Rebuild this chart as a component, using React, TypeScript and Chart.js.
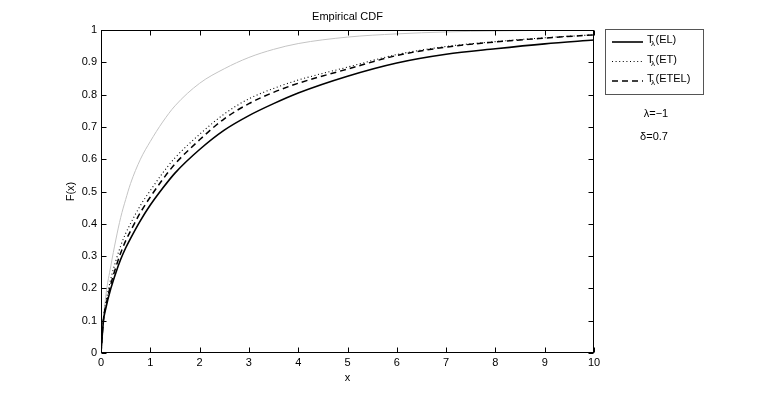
import React, { useEffect, useRef } from "react";
import { Chart, registerables } from "chart.js";
Chart.register(...registerables);

const chartTitle = "Empirical CDF";
const xAxisTitle = "x";
const yAxisTitle = "F(x)";
const xValues = [0, 0.05, 0.1, 0.2, 0.3, 0.4, 0.5, 0.6, 0.8, 1, 1.25, 1.5, 2, 2.5, 3, 3.5, 4, 5, 6, 7, 8, 9, 10];
const trueCdf = [0, 0.1, 0.18, 0.27, 0.35, 0.42, 0.475, 0.525, 0.6, 0.655, 0.715, 0.765, 0.835, 0.88, 0.915, 0.94, 0.958, 0.978, 0.988, 0.994, 0.997, 0.999, 1.0];
const elCdf = [0, 0.1, 0.14, 0.2, 0.248, 0.29, 0.325, 0.355, 0.41, 0.458, 0.51, 0.557, 0.63, 0.69, 0.735, 0.772, 0.805, 0.857, 0.898, 0.925, 0.942, 0.957, 0.969];
const etCdf = [0, 0.11, 0.158, 0.23, 0.285, 0.332, 0.37, 0.401, 0.457, 0.503, 0.557, 0.604, 0.677, 0.74, 0.787, 0.819, 0.845, 0.885, 0.924, 0.949, 0.964, 0.976, 0.985];
const etelCdf = [0, 0.105, 0.148, 0.213, 0.265, 0.31, 0.347, 0.378, 0.435, 0.483, 0.537, 0.585, 0.66, 0.725, 0.772, 0.807, 0.835, 0.879, 0.921, 0.947, 0.963, 0.975, 0.985];
const xTickValues = [0, 1, 2, 3, 4, 5, 6, 7, 8, 9, 10];
const xTickLabels = ["0", "1", "2", "3", "4", "5", "6", "7", "8", "9", "10"];
const yTickValues = [0, 0.1, 0.2, 0.3, 0.4, 0.5, 0.6, 0.7, 0.8, 0.9, 1];
const yTickLabels = ["0", "0.1", "0.2", "0.3", "0.4", "0.5", "0.6", "0.7", "0.8", "0.9", "1"];
const legendBase = "T";
const legendSub = "λ";
const legendSuffixes = ["(EL)", "(ET)", "(ETEL)"];
const noteLines = ["λ=−1", "δ=0.7"];

const FONT = "'Liberation Sans', Arial, Helvetica, sans-serif";

const pts = (ys: number[]) => xValues.map((x, i) => ({ x, y: ys[i] }));

export default function App() {
  const ref = useRef<HTMLCanvasElement | null>(null);
  useEffect(() => {
    if (!ref.current) return;
    const legendStyles = [
      { dash: [] as number[], width: 1.6 },
      { dash: [1, 2.6], width: 1.1 },
      { dash: [6, 4], width: 1.5 },
    ];
    const decor = {
      id: "decor",
      afterDraw(chart: any) {
        const ctx = chart.ctx as CanvasRenderingContext2D;
        const a = chart.chartArea;
        const xs = chart.scales.x;
        const ys = chart.scales.y;
        ctx.save();
        ctx.strokeStyle = "#000";
        ctx.lineWidth = 1;
        ctx.setLineDash([]);
        const L = Math.round(a.left) + 0.5, R = Math.round(a.right) - 0.5;
        const T = Math.round(a.top) + 0.5, B = Math.round(a.bottom) - 0.5;
        ctx.strokeRect(L, T, R - L, B - T);
        const tl = 5;
        ctx.beginPath();
        xTickValues.forEach((v) => {
          const px = Math.round(xs.getPixelForValue(v)) + 0.5;
          ctx.moveTo(px, B); ctx.lineTo(px, B - tl);
          ctx.moveTo(px, T); ctx.lineTo(px, T + tl);
        });
        yTickValues.forEach((v) => {
          const py = Math.round(ys.getPixelForValue(v)) + 0.5;
          ctx.moveTo(L, py); ctx.lineTo(L + tl, py);
          ctx.moveTo(R, py); ctx.lineTo(R - tl, py);
        });
        ctx.stroke();

        // legend
        const lx = 605.5, ly = 29.5, lw = 98, lh = 65;
        ctx.fillStyle = "#fff";
        ctx.fillRect(lx, ly, lw, lh);
        ctx.strokeStyle = "#555";
        ctx.strokeRect(lx, ly, lw, lh);
        const rows = [42, 61.5, 81];
        rows.forEach((y, i) => {
          const st = legendStyles[i];
          ctx.strokeStyle = "#000";
          ctx.lineWidth = st.width;
          ctx.setLineDash(st.dash);
          ctx.beginPath();
          ctx.moveTo(612, y);
          ctx.lineTo(643, y);
          ctx.stroke();
          ctx.setLineDash([]);
          ctx.fillStyle = "#000";
          ctx.textAlign = "left";
          ctx.textBaseline = "alphabetic";
          ctx.font = `11px ${FONT}`;
          ctx.fillText(legendBase, 647, y + 1);
          ctx.font = `8px ${FONT}`;
          ctx.fillText(legendSub, 651, y + 4);
          ctx.font = `11px ${FONT}`;
          ctx.fillText(legendSuffixes[i], 655.5, y + 1);
        });

        // notes
        ctx.fillStyle = "#000";
        ctx.textAlign = "center";
        ctx.textBaseline = "middle";
        ctx.font = `11px ${FONT}`;
        ctx.fillText(noteLines[0], 656, 114);
        ctx.fillText(noteLines[1], 654, 137);
        ctx.restore();
      },
    };

    const chart = new Chart(ref.current, {
      type: "line",
      data: {
        datasets: [
          { label: "true", data: pts(trueCdf), borderColor: "#c4c4c4", borderWidth: 1, pointRadius: 0, cubicInterpolationMode: "monotone", order: 4 },
          { label: legendSuffixes[0], data: pts(elCdf), borderColor: "#000", borderWidth: 1.6, pointRadius: 0, cubicInterpolationMode: "monotone", order: 1 },
          { label: legendSuffixes[1], data: pts(etCdf), borderColor: "#000", borderWidth: 1.1, borderDash: [1, 2.6], pointRadius: 0, cubicInterpolationMode: "monotone", order: 3 },
          { label: legendSuffixes[2], data: pts(etelCdf), borderColor: "#000", borderWidth: 1.5, borderDash: [6, 4], pointRadius: 0, cubicInterpolationMode: "monotone", order: 2 },
        ],
      } as any,
      options: {
        animation: false,
        responsive: false,
        devicePixelRatio: 1,
        layout: { padding: { top: 0, right: 185, bottom: 0, left: 0 } },
        plugins: {
          legend: { display: false },
          tooltip: { enabled: false },
          title: {
            display: true,
            text: chartTitle,
            fullSize: false,
            color: "#000",
            font: { family: FONT, size: 11, weight: "normal" },
            padding: { top: 10.4, bottom: 6.4 },
          },
        },
        scales: {
          x: {
            type: "linear",
            min: 0,
            max: 10,
            grid: { display: false, drawTicks: false },
            border: { display: false },
            afterBuildTicks: (s: any) => { s.ticks = xTickValues.map((v) => ({ value: v })); },
            afterFit: (s: any) => { s.height = 45; },
            ticks: {
              autoSkip: false,
              maxRotation: 0,
              padding: 3,
              color: "#000",
              font: { family: FONT, size: 11 },
              callback: (_v: any, i: number) => xTickLabels[i],
            },
            title: {
              display: true,
              text: xAxisTitle,
              color: "#000",
              font: { family: FONT, size: 11 },
              padding: { top: 0, bottom: 13 },
            },
          },
          y: {
            type: "linear",
            min: 0,
            max: 1,
            grid: { display: false, drawTicks: false },
            border: { display: false },
            afterBuildTicks: (s: any) => { s.ticks = yTickValues.map((v) => ({ value: v })); },
            afterFit: (s: any) => { s.width = 101; },
            ticks: {
              autoSkip: false,
              padding: 4,
              color: "#000",
              font: { family: FONT, size: 11 },
              callback: (_v: any, i: number) => yTickLabels[i],
            },
            title: {
              display: true,
              text: yAxisTitle,
              color: "#000",
              font: { family: FONT, size: 11 },
              padding: { top: 64, bottom: 0 },
            },
          },
        },
      } as any,
      plugins: [decor],
    });
    return () => chart.destroy();
  }, []);

  return (
    <div style={{ position: "absolute", left: 0, top: 0, width: 779, height: 398, background: "#fff" }}>
      <canvas ref={ref} width={779} height={398} style={{ width: 779, height: 398, display: "block" }} />
    </div>
  );
}
